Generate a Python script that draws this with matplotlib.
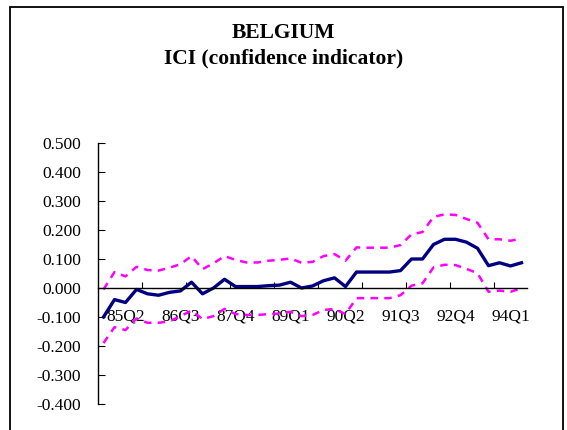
import matplotlib
matplotlib.use("Agg")
import matplotlib.pyplot as plt
from matplotlib.patches import Rectangle

plt.rcParams['font.family'] = ['Liberation Serif', 'DejaVu Serif']
plt.rcParams['axes.unicode_minus'] = False

# quarters 84Q4 .. 94Q2
quarters = ['84Q4'] + ['%02dQ%d' % (y, q) for y in range(85, 95) for q in range(1, 5)]
quarters = quarters[:39]

ici = [-0.10, -0.04, -0.05, -0.005, -0.02, -0.025, -0.015, -0.01, 0.02, -0.02,
       0.0, 0.03, 0.005, 0.005, 0.005, 0.008, 0.01, 0.02, 0.0, 0.007,
       0.025, 0.035, 0.005, 0.055, 0.055, 0.055, 0.055, 0.06, 0.10, 0.10,
       0.15, 0.168, 0.168, 0.158, 0.137, 0.077, 0.087, 0.076, 0.087]
upper = [-0.005, 0.055, 0.04, 0.073, 0.062, 0.06, 0.07, 0.082, 0.11, 0.065,
         0.085, 0.11, 0.097, 0.088, 0.088, 0.094, 0.097, 0.102, 0.087, 0.09,
         0.11, 0.117, 0.094, 0.14, 0.139, 0.139, 0.139, 0.148, 0.185, 0.193,
         0.245, 0.254, 0.252, 0.238, 0.225, 0.168, 0.168, 0.163, 0.17]
lower = [-0.19, -0.135, -0.145, -0.105, -0.12, -0.12, -0.115, -0.097, -0.078, -0.107,
         -0.097, -0.072, -0.09, -0.093, -0.093, -0.09, -0.088, -0.082, -0.097, -0.093,
         -0.076, -0.072, -0.09, -0.035, -0.035, -0.035, -0.035, -0.025, 0.008, 0.016,
         0.071, 0.08, 0.079, 0.066, 0.051, -0.013, -0.009, -0.013, -0.001]

yticks = [0.5, 0.4, 0.3, 0.2, 0.1, 0.0, -0.1, -0.2, -0.3, -0.4]

fig = plt.figure(figsize=(5.67, 4.30), dpi=100)
fig.patches.append(Rectangle((10 / 567, -0.05), 553 / 567, 1.05 - 7 / 430,
                             transform=fig.transFigure, fill=False,
                             edgecolor='black', linewidth=1.3))
ax = fig.add_axes([98 / 567, 1 - 404 / 430, 429 / 567, 261 / 430])

x = list(range(len(quarters)))
ax.plot(x, upper, color='#FF00FF', lw=1.8, dashes=(3, 2.5))
ax.plot(x, lower, color='#FF00FF', lw=1.8, dashes=(3, 2.5))
ax.plot(x, ici, color='#000080', lw=2.4)

ax.set_xlim(-0.5, len(quarters) - 0.5)
ax.set_ylim(-0.4, 0.5)
ax.spines['top'].set_visible(False)
ax.spines['right'].set_visible(False)
ax.spines['bottom'].set_position(('data', 0))
ax.spines['left'].set_linewidth(1.0)
ax.spines['bottom'].set_linewidth(1.0)

ax.set_yticks(yticks)
ax.set_yticklabels(['%.3f' % v for v in yticks], fontsize=12.5)
ax.tick_params(axis='y', direction='in', length=5, pad=12)

ax.set_xticks([b - 0.5 for b in range(4, len(quarters), 4)])
ax.set_xticklabels([])
ax.tick_params(axis='x', which='major', direction='in', length=4)
lab_pos = list(range(2, len(quarters), 5))
ax.set_xticks(lab_pos, [quarters[i] for i in lab_pos], minor=True)
ax.tick_params(axis='x', which='minor', length=0, pad=15, labelsize=12.5)

fig.text(0.5, 1 - 33 / 430, 'BELGIUM', ha='center', va='center',
         fontsize=15.5, fontweight='bold')
fig.text(0.5, 1 - 58 / 430, 'ICI (confidence indicator)', ha='center', va='center',
         fontsize=15.5, fontweight='bold')

fig.savefig('out.png', dpi=100)
